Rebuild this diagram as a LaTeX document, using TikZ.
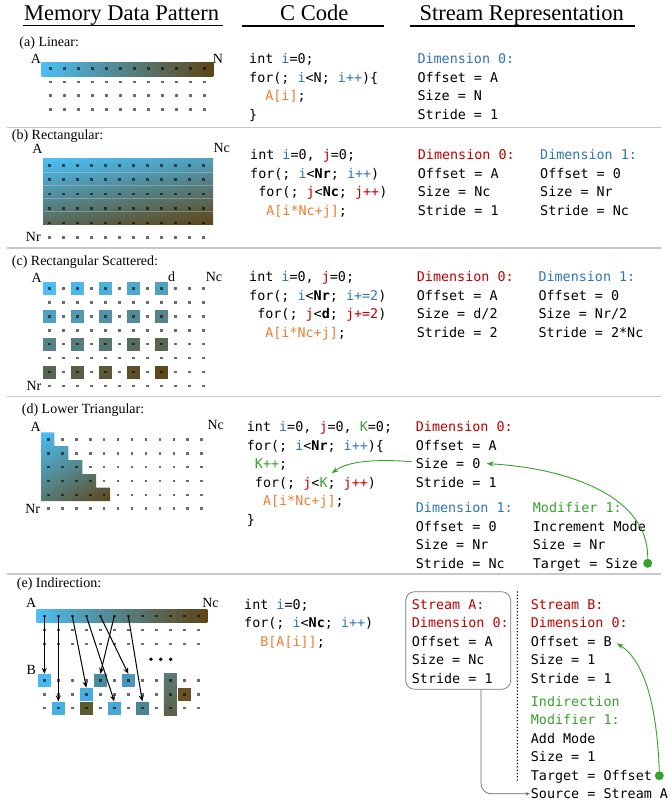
\documentclass[tikz,border=0pt]{standalone}
\usepackage{fontspec}
\setmainfont{Liberation Serif}
\newfontfamily\monofam{DejaVu Sans Mono}
\usetikzlibrary{arrows.meta,shadings}
\definecolor{cblue}{HTML}{2E75B6}
\definecolor{cred}{HTML}{C00000}
\definecolor{cgreen}{HTML}{38A02C}
\definecolor{corange}{HTML}{ED7D31}
\definecolor{sblue}{HTML}{4CBEF5}
\definecolor{sbrown}{HTML}{5E4414}
\definecolor{sepgray}{HTML}{C8C8C8}
\definecolor{eqa}{HTML}{4CB8F0}
\definecolor{eqb}{HTML}{4A8C9C}
\definecolor{eqc}{HTML}{4A96B8}
\definecolor{eqd}{HTML}{48AEE0}
\definecolor{eqe}{HTML}{49B0E4}
\definecolor{eqf}{HTML}{5E5A30}
\definecolor{eqg}{HTML}{4AA6D4}
\definecolor{eqh}{HTML}{4A8590}
\definecolor{eqi}{HTML}{5A7D78}
\definecolor{eqj}{HTML}{5A6248}
\definecolor{eqk}{HTML}{6B5222}
\newcommand\VI[1]{\textcolor{cblue}{#1}}
\newcommand\VJ[1]{\textcolor{cred}{#1}}
\newcommand\VK[1]{\textcolor{cgreen}{#1}}
\newcommand\VA[1]{\textcolor{corange}{#1}}
\newcommand\VB[1]{\textbf{#1}}
\newcommand\ind[1]{\hphantom{#1}}
\newcommand\dotgrid[6]{%
  \foreach \r in {0,...,#6}{\foreach \k in {0,...,#3}{%
    \fill[dotsty] ({#1+#2*\k-1.35},{#4+#5*\r-1.35}) rectangle ++(2.7,2.7);}}}
\begin{document}
\begin{tikzpicture}[x=1pt,y=-1pt,
  codetxt/.style={font=\monofam\fontsize{13.4}{16}\selectfont, inner sep=0pt, anchor=base west},
  lbl/.style={font=\fontsize{14}{16}\selectfont, inner sep=0pt},
  hdr/.style={font=\fontsize{22.5}{26}\selectfont, inner sep=0pt, anchor=base},
  uline/.style={line width=1.2pt, black},
  sepline/.style={sepgray, line width=1.2pt},
  dotsty/.style={fill=black, fill opacity=0.58},
  sqbox/.style={minimum size=13pt, inner sep=0pt, draw=none},
  parrow/.style={line width=1pt, -{Stealth[length=6pt,width=5pt]}},
  garrow/.style={cgreen, line width=0.9pt, -{Stealth[length=7pt,width=5pt]}},
  gdotsty/.style={circle, fill=cgreen, minimum size=9pt, inner sep=0pt},
]
\useasboundingbox (0,0) rectangle (670,802);

% ---------- headers ----------
\node[hdr] (t1) at (121.7,20.7) {Memory Data Pattern};
\node[hdr] (t2) at (314.2,20.7) {C Code};
\node[hdr] (t3) at (521.7,20.7) {Stream Representation};
\draw[uline] (22.7,25.5) -- (222.7,25.5);
\draw[uline] (242.3,26) -- (384,26);
\draw[uline] (410,26) -- (635,26);

% ---------- separators ----------
\draw[sepline] (7,127.7) -- (661,127.7);
\draw[sepline] (7,248) -- (661,248);
\draw[sepline] (7,396.7) -- (661,396.7);
\draw[sepline] (7,574) -- (661,574);

% ================= (a) =================
\node[lbl, anchor=base west] (la) at (19.3,46.5) {(a) Linear:};
\node[lbl] (aA) at (36,59.3) {A};
\node[lbl] (aN) at (218,59.3) {N};
\shade[left color=sblue, right color=sbrown] (41.7,62.3) rectangle (213.3,76.7);
\dotgrid{50.7}{14}{11}{68.3}{13.7}{3}
\node[codetxt] (ca1) at (249,63.7) {int \VI{i}=0;};
\node[codetxt] (ca2) at (249,82.3) {for(; \VI{i}<N; \VI{i++})\{};
\node[codetxt] (ca3) at (249,100.9) {\ind{xx}\VA{A[i]};};
\node[codetxt] (ca4) at (249,119.5) {\}};
\node[codetxt, text=cblue] (sa1) at (417.3,63.7) {Dimension 0:};
\node[codetxt] (sa2) at (417.3,82.3) {Offset = A};
\node[codetxt] (sa3) at (417.3,100.9) {Size = N};
\node[codetxt] (sa4) at (417.3,119.5) {Stride = 1};

% ================= (b) =================
\node[lbl, anchor=base west] (lb) at (11.7,139.2) {(b) Rectangular:};
\node[lbl] (bA) at (37.5,148.6) {A};
\node[lbl] (bNc) at (221.7,148) {Nc};
\node[lbl] (bNr) at (33.3,237.3) {Nr};
\shade[upper left=sblue, upper right=sbrown!25!sblue, lower left=sbrown!70!sblue, lower right=sbrown] (43,159) rectangle (213,225);
\foreach \yy in {172.2,185.4,198.6,211.8}
  \draw[white, opacity=0.25, line width=0.6pt] (43,\yy) -- (213,\yy);
\dotgrid{49.3}{14}{11}{165.3}{14.4}{5}
\node[codetxt] (cb1) at (250,159.7) {int \VI{i}=0, \VJ{j}=0;};
\node[codetxt] (cb2) at (250,178.3) {for(; \VI{i}<\VB{Nr}; \VI{i++})};
\node[codetxt] (cb3) at (250,196.9) {\ind{x}for(; \VJ{j}<\VB{Nc}; \VJ{j++})};
\node[codetxt] (cb4) at (250,215.5) {\ind{xx}\VA{A[i*Nc+j]};};
\node[codetxt, text=cred] (sb01) at (417.7,159.7) {Dimension 0:};
\node[codetxt] (sb02) at (417.7,178.3) {Offset = A};
\node[codetxt] (sb03) at (417.7,196.9) {Size = Nc};
\node[codetxt] (sb04) at (417.7,215.5) {Stride = 1};
\node[codetxt, text=cblue] (sb11) at (540,159.7) {Dimension 1:};
\node[codetxt] (sb12) at (540,178.3) {Offset = 0};
\node[codetxt] (sb13) at (540,196.9) {Size = Nr};
\node[codetxt] (sb14) at (540,215.5) {Stride = Nc};

% ================= (c) =================
\node[lbl, anchor=base west] (lc) at (11.7,265.7) {(c) Rectangular Scattered:};
\node[lbl] (cA) at (36.7,277.5) {A};
\node[lbl] (cd) at (171.7,277) {d};
\node[lbl] (cNc) at (214,277) {Nc};
\node[lbl] (cNr) at (34,386) {Nr};
\foreach \r in {0,...,3}{\foreach \c in {0,...,4}{%
  \pgfmathtruncatemacro\p{round(72*\r/3+24*\c/4)}
  \fill[sbrown!\p!sblue] ({49.3+28*\c-6.5},{288.3+27.9*\r-6.5}) rectangle ++(13,13);}}
\dotgrid{49.3}{14}{11}{288.3}{13.95}{7}
\node[codetxt] (cc1) at (249,281.4) {int \VI{i}=0, \VJ{j}=0;};
\node[codetxt] (cc2) at (249,300) {for(; \VI{i}<\VB{Nr}; \VI{i+=2})};
\node[codetxt] (cc3) at (249,318.6) {\ind{x}for(; \VJ{j}<\VB{d}; \VJ{j+=2})};
\node[codetxt] (cc4) at (249,337.2) {\ind{xx}\VA{A[i*Nc+j]};};
\node[codetxt, text=cred] (sc01) at (416.7,281.4) {Dimension 0:};
\node[codetxt] (sc02) at (416.7,300) {Offset = A};
\node[codetxt] (sc03) at (416.7,318.6) {Size = d/2};
\node[codetxt] (sc04) at (416.7,337.2) {Stride = 2};
\node[codetxt, text=cblue] (sc11) at (538.3,281.4) {Dimension 1:};
\node[codetxt] (sc12) at (538.3,300) {Offset = 0};
\node[codetxt] (sc13) at (538.3,318.6) {Size = Nr/2};
\node[codetxt] (sc14) at (538.3,337.2) {Stride = 2*Nc};

% ================= (d) =================
\node[lbl, anchor=base west] (ld) at (21.7,413) {(d) Lower Triangular:};
\node[lbl] (dA) at (35.8,426.7) {A};
\node[lbl] (dNc) at (215.8,425) {Nc};
\node[lbl] (dNr) at (32.7,508.7) {Nr};
\shade[upper left=sblue, upper right=sbrown!25!sblue, lower left=sbrown!58!sblue, lower right=sbrown]
  (41,432.3) -- (54.3,432.3) -- (54.3,446) -- (68.3,446) -- (68.3,460) -- (82.3,460) -- (82.3,474)
  -- (96,474) -- (96,487.7) -- (110,487.7) -- (110,501) -- (41,501) -- cycle;
\dotgrid{48.3}{13.95}{11}{439.3}{13.9}{5}
\node[codetxt] (cd1) at (246.7,431.4) {int \VI{i}=0, \VJ{j}=0, \VK{K}=0;};
\node[codetxt] (cd2) at (246.7,450) {for(; \VI{i}<\VB{Nr}; \VI{i++})\{};
\node[codetxt] (cd3) at (246.7,468.6) {\ind{x}\VK{K++};};
\node[codetxt] (cd4) at (246.7,487.2) {\ind{x}for(; \VJ{j}<\VK{K}; \VJ{j++})};
\node[codetxt] (cd5) at (246.7,505.8) {\ind{xx}\VA{A[i*Nc+j]};};
\node[codetxt] (cd6) at (246.7,524.4) {\}};
\node[codetxt, text=cred] (d01) at (415.7,431.4) {Dimension 0:};
\node[codetxt] (d02) at (415.7,450) {Offset = A};
\node[codetxt] (d0s) at (415.7,468.6) {Size = 0};
\node[codetxt] (d04) at (415.7,487.2) {Stride = 1};
\node[codetxt, text=cblue] (d11) at (415.7,512.4) {Dimension 1:};
\node[codetxt] (d12) at (415.7,531) {Offset = 0};
\node[codetxt] (d13) at (415.7,549.6) {Size = Nr};
\node[codetxt] (d14) at (415.7,568.2) {Stride = Nc};
\node[codetxt, text=cgreen] (m11) at (532.7,512.4) {Modifier 1:};
\node[codetxt] (m12) at (532.7,531) {Increment Mode};
\node[codetxt] (m13) at (532.7,549.6) {Size = Nr};
\node[codetxt] (m14) at (532.7,568.2) {Target = Size};
\node[gdotsty] (gD) at (647.7,563.3) {};
\coordinate (ktip) at (331.7,473.3);
\draw[garrow] ([xshift=-4pt,yshift=2pt]d0s.west) .. controls (375,459) and (348,461) .. (ktip);
\draw[garrow] (gD.north) .. controls (649,495) and (565,468) .. ([xshift=6pt]d0s.east);

% ================= (e) =================
\node[lbl, anchor=base west] (le) at (16.7,587.3) {(e) Indirection:};
\node[lbl] (eA) at (31.3,603.3) {A};
\node[lbl] (eNc) at (210.5,603.3) {Nc};
\node[lbl] (eB) at (31.2,670) {B};
\shade[left color=sblue, right color=sbrown] (36.7,609.3) rectangle (207.3,622.7);
\node[sqbox, fill=eqa] (sq00) at (44.3,680.5) {};
\node[sqbox, fill=eqb] (sq40) at (100.3,680.5) {};
\node[sqbox, fill=eqc] (sq60) at (128.3,680.5) {};
\node[sqbox, fill=eqd] (sq31) at (86.3,694.3) {};
\node[sqbox, fill=eqe] (sq12) at (58.3,708.1) {};
\node[sqbox, fill=eqf] (sq32) at (86.3,708.1) {};
\node[sqbox, fill=eqg] (sq52) at (114.3,708.1) {};
\node[sqbox, fill=eqh] (sq72) at (142.3,708.1) {};
\node[sqbox, minimum height=41.6pt, top color=eqi, bottom color=eqj] (sq9) at (170.3,694.3) {};
\node[sqbox, fill=eqk] (sq101) at (184.3,694.3) {};
\dotgrid{44.3}{14}{11}{616}{14}{2}
\dotgrid{44.3}{14}{11}{680.5}{13.8}{2}
\foreach \xx in {151,160.7,170.7} \fill[black] (\xx,659.3) circle (1.9);
\foreach \k in {0,...,6} \coordinate (a\k) at ({44.3+14*\k},616);
\draw[parrow] (a0) -- (sq00.north);
\draw[parrow] (a1) -- (sq12.north);
\draw[parrow] (a2) -- (sq31.north);
\draw[parrow] (a3) -- (sq52.north);
\draw[parrow] (a4) -- (sq60.north);
\draw[parrow] (a5) -- (sq40.north);
\draw[parrow] (a6) -- (sq72.north);

\node[codetxt] (ce1) at (244,609) {int \VI{i}=0;};
\node[codetxt] (ce2) at (244,627.6) {for(; \VI{i}<\VB{Nc}; \VI{i++})};
\node[codetxt] (ce3) at (244,646.2) {\ind{xx}\VA{B[A[i]]};};

\node[draw=black!55, line width=0.7pt, rounded corners=9pt, minimum width=105pt, minimum height=97.6pt, inner sep=0pt] (boxA) at (458.2,640.5) {};
\node[codetxt, text=cred] (sA1) at (411.7,609) {Stream A:};
\node[codetxt, text=cred] (sA2) at (411.7,627.6) {Dimension 0:};
\node[codetxt] (sA3) at (411.7,646.2) {Offset = A};
\node[codetxt] (sA4) at (411.7,664.8) {Size = Nc};
\node[codetxt] (sA5) at (411.7,683.4) {Stride = 1};

\draw[line width=1.6pt, line cap=round, dash pattern=on 0pt off 3.3pt] (517.3,592) -- (517.3,783.3);

\node[codetxt, text=cred] (sB1) at (530.7,609) {Stream B:};
\node[codetxt, text=cred] (sB2) at (530.7,627.6) {Dimension 0:};
\node[codetxt] (sB3) at (530.7,646.2) {Offset = B};
\node[codetxt] (sB4) at (530.7,664.8) {Size = 1};
\node[codetxt] (sB5) at (530.7,683.4) {Stride = 1};
\node[codetxt, text=cgreen] (sB6) at (530.7,706.4) {Indirection};
\node[codetxt, text=cgreen] (sB7) at (530.7,724.9) {Modifier 1:};
\node[codetxt] (sB8) at (530.7,743.4) {Add Mode};
\node[codetxt] (sB9) at (530.7,761.9) {Size = 1};
\node[codetxt] (sB10) at (530.7,780.4) {Target = Offset};
\node[codetxt] (sB11) at (530.7,798.6) {Source = Stream A};
\node[gdotsty] (gE) at (659.3,775.7) {};
\draw[garrow] (gE.north) .. controls (657,710) and (646,662) .. ([xshift=5pt,yshift=-2pt]sB3.east);
\draw[black!60, line width=0.7pt, rounded corners=10pt, -{Stealth[length=4pt,width=3.5pt]}]
  ([xshift=-30pt]boxA.south east) |- ([xshift=-1pt]sB11.west);
\end{tikzpicture}
\end{document}
